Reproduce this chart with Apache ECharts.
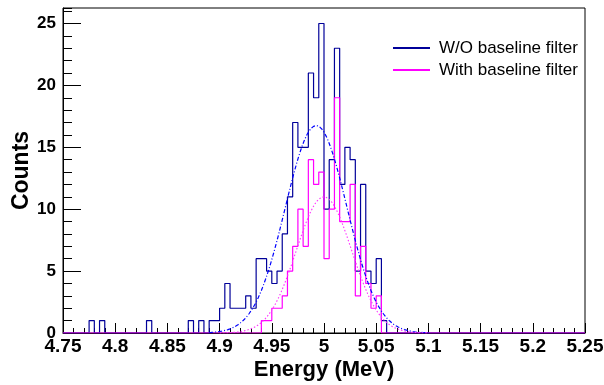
<!DOCTYPE html>
<html>
<head>
<meta charset="utf-8">
<script src="https://cdn.jsdelivr.net/npm/echarts@6/dist/echarts.min.js"></script>
<style>
  html, body { margin: 0; padding: 0; background: #fff; }
  #chart { width: 604px; height: 385px; }
</style>
</head>
<body>
<div id="chart"></div>
<script>
// Histogram binning: 100 bins of 5 keV from 4.75 to 5.25 MeV
const binLow = 4.75;
const binWidth = 0.005;
const binCount = 100;

// Counts per bin, without baseline filter
const countsNoFilter = [
  0, 0, 0, 0, 0, 1, 0, 1, 0, 0,
  0, 0, 0, 0, 0, 0, 1, 0, 0, 0,
  0, 0, 0, 0, 1, 0, 1, 0, 1, 1,
  2, 4, 2, 2, 2, 3, 2, 6, 6, 5,
  4, 5, 8, 11, 17, 15, 15, 21, 19, 25,
  10, 14, 23, 12, 15, 14, 5, 12, 5, 4,
  6, 1, 0, 0, 0, 0, 0, 0, 0, 0,
  0, 0, 0, 0, 0, 0, 0, 0, 0, 0,
  0, 0, 0, 0, 0, 0, 0, 0, 0, 0,
  0, 0, 0, 0, 0, 0, 0, 0, 0, 0
];

// Counts per bin, with baseline filter
const countsFilter = [
  0, 0, 0, 0, 0, 0, 0, 0, 0, 0,
  0, 0, 0, 0, 0, 0, 0, 0, 0, 0,
  0, 0, 0, 0, 0, 0, 0, 0, 0, 0,
  0, 0, 0, 0, 0, 0, 0, 0, 1, 1,
  2, 2, 3, 5, 7, 10, 7, 14, 12, 13,
  6, 10, 19, 9, 9, 12, 3, 7, 4, 2,
  3, 0, 0, 0, 0, 0, 0, 0, 0, 0,
  0, 0, 0, 0, 0, 0, 0, 0, 0, 0,
  0, 0, 0, 0, 0, 0, 0, 0, 0, 0,
  0, 0, 0, 0, 0, 0, 0, 0, 0, 0
];

// Gaussian fit results: [amplitude, mean (MeV), sigma (MeV)] and fit range
const fitNoFilter = [16.75, 4.9925, 0.0295];
const fitNoFilterRange = [4.89, 5.10];
const fitFilter = [11.0, 5.0, 0.0265];
const fitFilterRange = [4.90, 5.10];

const seriesNames = ['W/O baseline filter', 'With baseline filter'];
const xTickStep = 0.05;
const yTickStep = 5;

const FONT = 'Liberation Sans, Arial, Helvetica, sans-serif';

// Step outline: one point at each bin's low edge, closed at the upper edge
function histPoints(counts) {
  const pts = counts.map((c, i) => [binLow + i * binWidth, c]);
  pts.push([binLow + binCount * binWidth, counts[counts.length - 1]]);
  return pts;
}

// Sample a fitted Gaussian across its fit range
function gaussPoints(par, range) {
  const [a, m, s] = par;
  const pts = [];
  const n = 210;
  for (let k = 0; k <= n; k++) {
    const x = range[0] + (range[1] - range[0]) * k / n;
    pts.push([x, a * Math.exp(-0.5 * Math.pow((x - m) / s, 2))]);
  }
  return pts;
}

const yMax = 1.05 * Math.max(...countsNoFilter, ...countsFilter);

const chart = echarts.init(document.getElementById('chart'), null, { renderer: 'canvas' });

chart.setOption({
  animation: false,
  backgroundColor: '#fff',
  textStyle: { fontFamily: FONT },
  grid: {
    left: 63, right: 19, top: 8, bottom: 52,
    containLabel: false,
    outerBoundsMode: 'none',
    show: true, borderColor: '#000', borderWidth: 1, backgroundColor: 'transparent'
  },
  legend: {
    orient: 'vertical',
    left: 393, top: 39,
    padding: 0,
    itemWidth: 37, itemHeight: 2,
    itemGap: 4,
    icon: 'rect',
    textStyle: { fontFamily: FONT, fontSize: 17, color: '#000', lineHeight: 18, padding: [0, 0, 0, 4] },
    data: seriesNames
  },
  xAxis: {
    type: 'value',
    min: binLow, max: binLow + binCount * binWidth,
    interval: xTickStep,
    name: 'Energy (MeV)',
    nameLocation: 'middle',
    nameGap: 26,
    nameMoveOverlap: false,
    nameTextStyle: { fontFamily: FONT, fontSize: 22, fontWeight: 'bold', color: '#000' },
    axisLine: { show: true, lineStyle: { color: '#000', width: 1 } },
    axisTick: { show: true, inside: true, length: 10, lineStyle: { color: '#000' } },
    minorTick: { show: true, splitNumber: 5, length: 5, lineStyle: { color: '#000' } },
    splitLine: { show: false },
    axisLabel: {
      fontFamily: FONT, fontSize: 19, fontWeight: 'bold', color: '#000', margin: 4,
      formatter: v => String(parseFloat(v.toFixed(2)))
    }
  },
  yAxis: [
    {
      type: 'value',
      min: 0, max: yMax,
      interval: yTickStep,
      name: 'Counts',
      nameLocation: 'middle',
      nameGap: 30,
      nameMoveOverlap: false,
      nameTextStyle: { fontFamily: FONT, fontSize: 23, fontWeight: 'bold', color: '#000' },
      axisLine: { show: true, lineStyle: { color: '#000', width: 1 } },
      axisTick: { show: true, inside: true, length: 18, lineStyle: { color: '#000' } },
      splitLine: { show: false },
      axisLabel: {
        fontFamily: FONT, fontSize: 17, fontWeight: 'bold', color: '#000', margin: 7,
        showMaxLabel: false,
        formatter: v => (v % yTickStep === 0 ? String(v) : '')
      }
    },
    {
      // minor ticks every count
      type: 'value',
      position: 'left',
      offset: 0,
      min: 0, max: yMax,
      interval: 1,
      axisLine: { show: false },
      axisTick: { show: true, inside: true, length: 9, lineStyle: { color: '#000' } },
      splitLine: { show: false },
      axisLabel: { show: false }
    }
  ],
  series: [
    {
      name: seriesNames[0],
      type: 'line',
      step: 'end',
      data: histPoints(countsNoFilter),
      symbol: 'none',
      color: '#000099',
      lineStyle: { color: '#000099', width: 1.2 },
      z: 2
    },
    {
      name: seriesNames[1],
      type: 'line',
      step: 'end',
      data: histPoints(countsFilter),
      symbol: 'none',
      color: '#ff00ff',
      lineStyle: { color: '#ff00ff', width: 1.2 },
      z: 3
    },
    {
      name: 'fit-nofilter',
      type: 'line',
      data: gaussPoints(fitNoFilter, fitNoFilterRange),
      symbol: 'none',
      lineStyle: { color: '#0000ff', width: 1.2, type: [4, 2, 1, 2] },
      z: 4
    },
    {
      name: 'fit-filter',
      type: 'line',
      data: gaussPoints(fitFilter, fitFilterRange),
      symbol: 'none',
      lineStyle: { color: '#ff33ff', width: 1.1, type: [1.5, 2] },
      z: 4
    }
  ]
});
</script>
</body>
</html>
